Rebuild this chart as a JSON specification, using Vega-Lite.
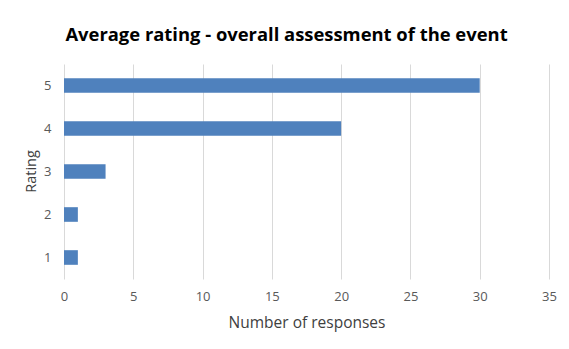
{
  "$schema": "https://vega.github.io/schema/vega-lite/v6.json",
  "width": 485,
  "height": 215,
  "autosize": "none",
  "padding": {"left": 64, "top": 64, "right": 20, "bottom": 70},
  "background": "#ffffff",
  "title": {
    "text": "Average rating - overall assessment of the event",
    "font": "Open Sans",
    "fontSize": 18.4,
    "fontWeight": "bold",
    "color": "#000000",
    "anchor": "middle",
    "dx": -20,
    "offset": 20
  },
  "data": {
    "values": [
      {"rating": "5", "responses": 30},
      {"rating": "4", "responses": 20},
      {"rating": "3", "responses": 3},
      {"rating": "2", "responses": 1},
      {"rating": "1", "responses": 1}
    ]
  },
  "mark": {"type": "bar", "color": "#4f81bd"},
  "encoding": {
    "y": {
      "field": "rating",
      "type": "nominal",
      "sort": "descending",
      "scale": {"paddingInner": 0.66, "paddingOuter": 0.33},
      "axis": {
        "title": "Rating",
        "titleFont": "Open Sans",
        "titleFontSize": 14.5,
        "titleFontWeight": "normal",
        "titleColor": "#404040",
        "titleBaseline": "middle",
        "titleX": -33,
        "titleY": 107,
        "labelFont": "Open Sans",
        "labelFontSize": 13,
        "labelColor": "#595959",
        "labelPadding": 13,
        "domain": false,
        "ticks": false,
        "grid": false,
        "labelAngle": 0
      }
    },
    "x": {
      "field": "responses",
      "type": "quantitative",
      "scale": {"domain": [0, 35], "nice": false},
      "axis": {
        "title": "Number of responses",
        "titleFont": "Open Sans",
        "titleFontSize": 15.5,
        "titleFontWeight": "normal",
        "titleColor": "#404040",
        "titleBaseline": "alphabetic",
        "titleY": 48,
        "values": [0, 5, 10, 15, 20, 25, 30, 35],
        "labelFont": "Open Sans",
        "labelFontSize": 13,
        "labelColor": "#595959",
        "labelPadding": 11,
        "labelFlush": false,
        "domain": false,
        "ticks": false,
        "grid": true,
        "gridColor": "#d9d9d9",
        "gridWidth": 1
      }
    }
  },
  "config": {"view": {"stroke": null}}
}
